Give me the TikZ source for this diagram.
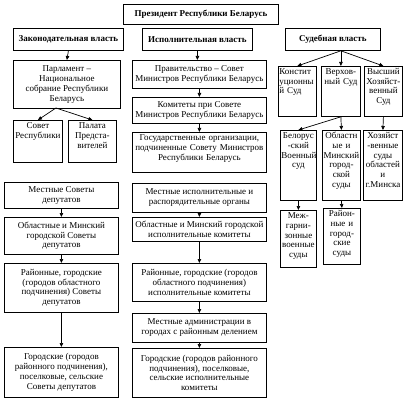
\documentclass[tikz,border=0pt]{standalone}
\usepackage{fontspec}
\setmainfont{Liberation Serif}
\usepackage{tikz}
\usetikzlibrary{arrows.meta}
\tikzset{
  box/.style={draw=black, line width=0.8pt, anchor=north west, align=center, inner sep=1pt, font=\fontsize{9}{9.8}\selectfont},
  head/.style={box, font=\fontsize{9}{9.8}\selectfont\bfseries},
  wh/.style 2 args={minimum width=#1pt, minimum height=#2pt},
  topbox/.style 2 args={box, text width=#1pt-2pt, text height=7pt, text depth=#2pt-9pt},
  arr/.style={-{Triangle[length=4pt,width=3.5pt]}, line width=0.7pt},
}
\begin{document}
\begin{tikzpicture}[x=1pt,y=-1pt]
  \useasboundingbox (0,0) rectangle (404,406);
  % heads
  \node[head, wh={155}{20}] (pres) at (123,4) {Президент Республики Беларусь};
  \node[head, wh={110}{22}] (leg) at (13,28) {Законодательная власть};
  \node[head, wh={110}{22}] (exe) at (142,28) {Исполнительная власть};
  \node[head, wh={95}{22}] (jud) at (285,28) {Судебная власть};
  % legislative
  \node[box, wh={107}{48}] (parl) at (13,60) {Парламент –\\Национальное\\собрание Республики\\Беларусь};
  \node[topbox={49}{42}] (sovr) at (13,120) {Совет\\Республики};
  \node[topbox={48}{42}] (pal) at (68,120) {Палата\\Предста-\\вителей};
  \node[box, wh={114}{26}] (msov) at (4,182) {Местные Советы\\депутатов};
  \node[box, wh={114}{37}] (osov) at (4,217) {Областные и Минский\\городской Советы\\депутатов};
  \node[box, wh={114}{49}] (rsov) at (4,263) {Районные, городские\\(городов областного\\подчинения) Советы\\депутатов};
  \node[box, wh={114}{50}] (gsov) at (4,347) {Городские (городов\\районного подчинения),\\поселковые, сельские\\Советы депутатов};
  % executive
  \node[box, wh={134}{28}] (prav) at (132,60) {Правительство – Совет\\Министров Республики Беларусь};
  \node[box, wh={134}{26}] (kom) at (132,97) {Комитеты при Совете\\Министров Республики Беларусь};
  \node[topbox={134}{40}] (gos) at (132,132) {Государственные организации,\\подчиненные Совету Министров\\Республики Беларусь};
  \node[box, wh={134}{29}] (morg) at (132,183) {Местные исполнительные и\\распорядительные органы};
  \node[box, wh={134}{24}] (oisp) at (132,217) {Областные и Минский городской\\исполнительные комитеты};
  \node[box, wh={134}{38}] (risp) at (132,263) {Районные, городские (городов\\областного подчинения)\\исполнительные комитеты};
  \node[box, wh={134}{29}] (madm) at (132,313) {Местные администрации в\\городах с районным делением};
  \node[box, wh={134}{49}] (gisp) at (132,348) {Городские (городов районного\\подчинения), поселковые,\\сельские исполнительные\\комитеты};
  % judicial
  \node[topbox={38}{50}, align=left] (kon) at (278,66) {Констит\\уционны\\й Суд};
  \node[topbox={39}{50}] (ver) at (321,66) {Верхов-\\ный Суд};
  \node[topbox={38}{50}] (vys) at (364,66) {Высший\\Хозяйст-\\венный\\Суд};
  \node[topbox={36}{70}] (bel) at (280,130) {Белорус\\-ский\\Военный\\суд};
  \node[topbox={38}{70}] (obl) at (322,130) {Областн\\ые и\\Минский\\город-\\ской\\суды};
  \node[topbox={39}{70}] (hoz) at (363,130) {Хозяйст\\-венные\\суды\\областей\\и\\г.Минска};
  \node[topbox={36}{57}] (mezh) at (280,210) {Меж-\\гарни-\\зонные\\военные\\суды};
  \node[topbox={37}{56}] (rayon) at (323,208) {Район-\\ные и\\город-\\ские\\суды};
  % arrows
  \coordinate (parlfork) at (56,108);
  \coordinate (judfork) at (jud.south -| ver.north);
  \draw[arr] (leg.south) -- (parl.north);
  \draw[arr] (parlfork) -- (sovr.north);
  \draw[arr] (parlfork) -- (pal.north);
  \draw[arr] (msov.south) -- (osov.north);
  \draw[arr] (osov.south) -- (rsov.north);
  \draw[arr] (rsov.south) -- (gsov.north);
  \draw[arr] (exe.south) -- (exe.south |- prav.north);
  \draw[arr] (prav.south) -- (kom.north);
  \draw[arr] (kom.south) -- (gos.north);
  \draw[arr] (morg.south) -- (oisp.north);
  \draw[arr] (oisp.south) -- (risp.north);
  \draw[arr] (risp.south) -- (madm.north);
  \draw[arr] (madm.south) -- (gisp.north);
  \draw[arr] (judfork) -- (kon.north);
  \draw[arr] (judfork) -- (ver.north);
  \draw[arr] (judfork) -- (vys.north);
  \draw[arr] (ver.south) -- (bel.north);
  \draw[arr] (ver.south) -- (obl.north);
  \draw[arr] (vys.south) -- (hoz.north);
  \draw[arr] (bel.south) -- (mezh.north);
  \draw[arr] (obl.south) -- (rayon.north);
\end{tikzpicture}
\end{document}
